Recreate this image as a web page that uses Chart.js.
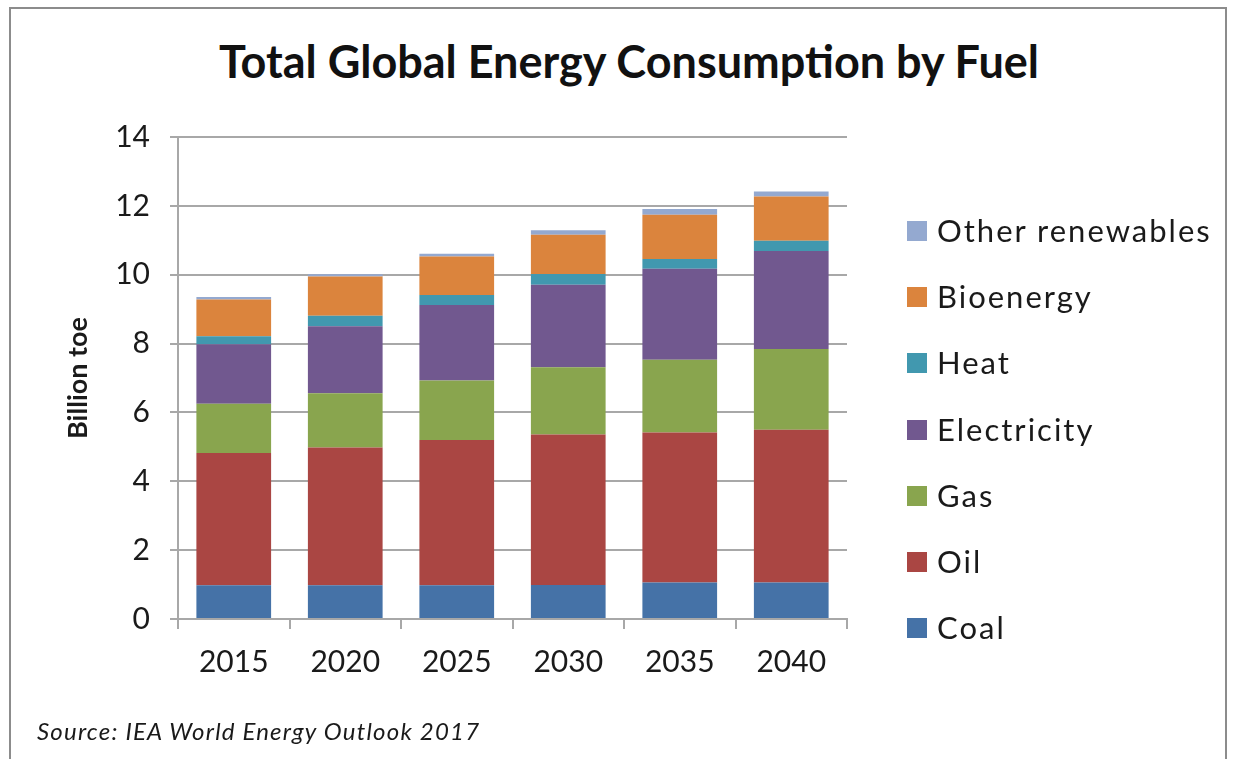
<!DOCTYPE html>
<html>
<head>
<meta charset="utf-8">
<script src="https://cdn.jsdelivr.net/npm/chart.js@4.4.0/dist/chart.umd.min.js"></script>
<style>
  body { margin: 0; background: #fff; }
  #wrap { position: relative; width: 1233px; height: 759px; overflow: hidden; }
  #frame { position: absolute; left: 9px; top: 7px; width: 1218px; height: 800px; border: 2px solid #8c8c8c; box-sizing: border-box; }
  #title { position: absolute; left: 0; width: 1258px; top: 34px; text-align: center; font-family: Lato, sans-serif; font-weight: bold; font-size: 45px; color: #111; }
  #legend { position: absolute; left: 907px; top: 211px; font-family: Lato, sans-serif; font-size: 31px; letter-spacing: 2px; color: #1a1a1a; }
  #legend .item { height: 66.2px; display: flex; align-items: flex-start; }
  #legend .box { width: 20px; height: 20px; margin-top: 10px; margin-right: 10px; }
  #source { position: absolute; left: 37px; top: 716px; font-family: Lato, sans-serif; font-style: italic; font-size: 24px; letter-spacing: 1.2px; color: #1a1a1a; }
  canvas { position: absolute; left: 0; top: 0; }
</style>
</head>
<body>
<div id="wrap">
  <div id="frame"></div>
  <div id="title">Total Global Energy Consumption by Fuel</div>
  <canvas id="chart" width="1233" height="759"></canvas>
  <div id="legend"></div>
  <div id="source">Source: IEA World Energy Outlook 2017</div>
</div>
<script>
var years = ["2015", "2020", "2025", "2030", "2035", "2040"];
var coal = [0.98, 0.98, 0.98, 0.99, 1.06, 1.06];
var oil = [3.84, 4.00, 4.22, 4.37, 4.36, 4.44];
var gas = [1.43, 1.58, 1.73, 1.95, 2.11, 2.34];
var electricity = [1.73, 1.94, 2.19, 2.40, 2.64, 2.85];
var heat = [0.23, 0.31, 0.29, 0.31, 0.29, 0.30];
var bioenergy = [1.07, 1.14, 1.12, 1.14, 1.28, 1.28];
var otherRenewables = [0.07, 0.06, 0.08, 0.13, 0.17, 0.15];

var fuels = ["Coal", "Oil", "Gas", "Electricity", "Heat", "Bioenergy", "Other renewables"];
var series = [coal, oil, gas, electricity, heat, bioenergy, otherRenewables];
var colors = ["#4572A7", "#AA4643", "#89A54E", "#71588F", "#4198AF", "#DB843D", "#94A9D0"];

var datasets = [];
for (var i = 0; i < fuels.length; i++) {
  datasets.push({
    label: fuels[i],
    data: series[i],
    backgroundColor: colors[i],
    borderWidth: 0,
    barPercentage: 0.67,
    categoryPercentage: 1.0
  });
}

var textColor = "#1a1a1a";
var gridColor = "#a8a8a8";

var chart = new Chart(document.getElementById("chart"), {
  type: "bar",
  data: { labels: years, datasets: datasets },
  options: {
    responsive: false,
    animation: false,
    layout: { padding: { left: 40, right: 386, top: 137, bottom: 64 } },
    plugins: {
      legend: { display: false },
      tooltip: { enabled: false }
    },
    scales: {
      x: {
        stacked: true,
        grid: { display: true, drawOnChartArea: false, color: gridColor, lineWidth: 2, tickLength: 10, offset: true },
        border: { color: gridColor, width: 2 },
        ticks: { color: textColor, font: { family: "Lato", size: 30 }, padding: 15 }
      },
      y: {
        stacked: true,
        min: 0,
        max: 14,
        ticks: { stepSize: 2, color: textColor, font: { family: "Lato", size: 30 }, padding: 20 },
        grid: { color: gridColor, lineWidth: 2, tickLength: 8 },
        border: { color: gridColor, width: 2 },
        title: {
          display: true,
          text: "Billion toe",
          color: textColor,
          font: { family: "Lato", size: 27, weight: "bold" },
          padding: { top: 22, bottom: 0 }
        },
        afterFit: function(scale) { scale.width = 138; }
      }
    }
  }
});

// legend, top item first like the original
var legend = document.getElementById("legend");
for (var j = fuels.length - 1; j >= 0; j--) {
  var row = document.createElement("div");
  row.className = "item";
  row.innerHTML = '<span class="box" style="background:' + colors[j] + '"></span><span>' + fuels[j] + '</span>';
  legend.appendChild(row);
}
</script>
</body>
</html>
